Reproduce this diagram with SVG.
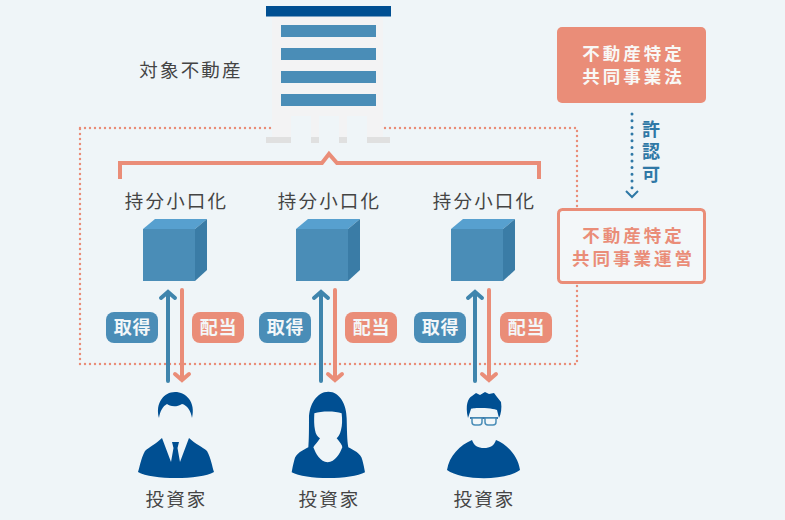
<svg xmlns="http://www.w3.org/2000/svg" width="785" height="520" viewBox="0 0 785 520">
<defs>
<style>
text{font-family:"Noto Sans CJK JP","Noto Sans",sans-serif;text-anchor:middle}
.lab{font-size:18.500px;fill:#444;letter-spacing:2.200px}
.tag{font-size:18px;font-weight:700;fill:#f3f7f9;letter-spacing:.8px}
.big{font-size:17.500px;font-weight:700;letter-spacing:3px}
.b{fill:#4a8db7}.s{fill:#3a7ca6}.t{fill:#57a0cf}
.inv{fill:#004f92}
.bg{fill:#eff5f8}
.ln{fill:none;stroke-width:4}
</style>
<g id="cube"><path class="t" d="M143 229L155 219H207L195 229Z"/><path class="s" d="M195 229L207 219V270L195 281Z"/><rect class="b" x="143" y="229" width="52" height="52"/></g>
<g id="up"><path fill="none" stroke="#3f85ad" stroke-width="4" stroke-linecap="round" d="M168 381V293M161 298L168 292L175 298"/></g>
<g id="dn"><path fill="none" stroke="#ea8d78" stroke-width="4" stroke-linecap="round" d="M182 290V380M175 374L182 380L189 374"/></g>
</defs>
<rect width="785" height="520" fill="#eff5f8"/>
<g id="connectors">
<rect x="80" y="128" width="497" height="236" fill="none" stroke="#ea8d78" stroke-width="2.400" stroke-linecap="round" stroke-dasharray="0 5"/>
<path class="ln" stroke="#ea8d78" d="M120 179V163H322L329 154L337 163H539V179"/>
<use href="#up"/><use href="#dn"/>
<use href="#up" x="153"/><use href="#dn" x="153"/>
<use href="#up" x="307"/><use href="#dn" x="307"/>
<path fill="none" stroke="#2f78a6" stroke-width="3" stroke-linecap="round" stroke-dasharray="0 6.700" d="M632 114V188"/>
<path fill="none" stroke="#2f78a6" stroke-width="2" d="M626 191L632 197L638 191"/>
</g>
<g id="building">
<rect x="272" y="16" width="111" height="122" fill="#f3f3f4"/>
<rect x="291" y="116" width="20" height="27" class="bg"/><rect x="319" y="116" width="20" height="27" class="bg"/><rect x="347" y="116" width="20" height="27" class="bg"/>
<rect x="266" y="137" width="25" height="6" fill="#e0e0e0"/><rect x="311" y="137" width="8" height="6" fill="#e0e0e0"/><rect x="339" y="137" width="8" height="6" fill="#e0e0e0"/><rect x="367" y="137" width="23" height="6" fill="#e0e0e0"/>
<rect x="266" y="6" width="125" height="10.500" fill="#004f92"/>
<rect x="281" y="25" width="95" height="12" fill="#4a8db7"/><rect x="281" y="48" width="95" height="12" fill="#4a8db7"/><rect x="281" y="71" width="95" height="12" fill="#4a8db7"/><rect x="281" y="94" width="95" height="12" fill="#4a8db7"/>
<text class="lab" x="191" y="77">対象不動産</text>
</g>
<g id="law"><rect x="557" y="27" width="149" height="76" rx="5" fill="#ea8d78"/><text class="big" fill="#f8f8f6"><tspan x="633.500" y="60">不動産特定</tspan><tspan x="633.500" y="83">共同事業法</tspan></text></g>
<g id="permit"><text x="651" y="120" font-size="18" font-weight="700" fill="#2f78a6" letter-spacing="4.500" style="writing-mode:vertical-rl;text-anchor:start">許認可</text></g>
<g id="operator"><rect x="558.500" y="209.500" width="146" height="73" rx="4" fill="#f3f7f9" stroke="#ea8d78" stroke-width="3"/><text class="big" fill="#ea8d78"><tspan x="633.500" y="242">不動産特定</tspan><tspan x="633.500" y="265">共同事業運営</tspan></text></g>
<g id="unit1"><text class="lab" x="176.500" y="208">持分小口化</text><use href="#cube"/></g>
<g id="unit2"><text class="lab" x="329.500" y="208">持分小口化</text><use href="#cube" x="153"/></g>
<g id="unit3"><text class="lab" x="484.500" y="208">持分小口化</text><use href="#cube" x="308"/></g>
<g id="tags1"><rect x="106" y="312" width="52" height="31" rx="8" fill="#4a8db7"/><text class="tag" x="132.500" y="334">取得</text><rect x="192" y="312" width="52" height="31" rx="8" fill="#ea8d78"/><text class="tag" x="218.500" y="334">配当</text></g>
<g id="tags2"><rect x="259" y="312" width="52" height="31" rx="8" fill="#4a8db7"/><text class="tag" x="285.500" y="334">取得</text><rect x="345" y="312" width="52" height="31" rx="8" fill="#ea8d78"/><text class="tag" x="371.500" y="334">配当</text></g>
<g id="tags3"><rect x="414" y="312" width="52" height="31" rx="8" fill="#4a8db7"/><text class="tag" x="440.500" y="334">取得</text><rect x="500" y="312" width="52" height="31" rx="8" fill="#ea8d78"/><text class="tag" x="526.500" y="334">配当</text></g>
<g id="investor1">
<path class="inv" d="M159 418C155 403 164 392 175 392C186 392 196 402 192 418C191 411 187 405 182 404C176 408 169 406 167 404C163 406 160 411 159 418Z"/>
<path class="inv" d="M162 438L171 462H180L189 438C195 444 203 447 207 451C211 458 212 466 214 472C200 480 152 480 138 472C140 466 141 458 145 451C149 447 156 444 162 438Z"/>
<path class="inv" d="M172 442H179L177.500 448L180 462H171L173.500 448Z"/>
</g>
<g id="investor2" transform="translate(285 385) scale(.3333)">
<path class="inv" d="M130 20C165 20 185 60 185 100C186 135 186 165 190 187C205 195 228 205 232 225C236 240 238 250 240 262C200 285 60 285 20 262C22 250 24 240 28 225C32 205 55 195 70 187C72 165 72 135 72 100C72 60 95 20 130 20Z"/>
<path class="bg" d="M88 85C110 78 150 78 170 85C172 105 172 120 168 135C165 148 160 155 155 160C165 172 172 180 172 187C165 205 150 232 128 232C106 232 92 205 85 187C88 180 98 172 105 160C98 155 92 148 90 135C87 120 87 105 88 85Z"/>
</g>
<g id="investor3">
<path class="inv" d="M468 418C465 405 468 398 472 396L476 393L480 395L485 392L489 394L494 393L497 397L501 402C502 408 501 414 499 418L497 410C495 408 472 407 471 409Z"/>
<path fill="none" stroke="#004f92" stroke-width="1.500" d="M470 418H498"/>
<path fill="#f3f7f9" stroke="#4a8db7" stroke-width="1.500" d="M472 418H482V422Q482 425 479 425H475Q472 425 472 422ZM485 418H496V422Q496 425 493 425H488Q485 425 485 422Z"/>
<path class="inv" d="M472 440C474 446 478 448 484 448C490 448 494 446 496 440C508 445 518 456 520 470C506 481 462 481 447 470C449 456 460 445 472 440Z"/>
</g>
<text class="lab" x="176.500" y="506">投資家</text>
<text class="lab" x="329.500" y="506">投資家</text>
<text class="lab" x="484.500" y="506">投資家</text>
</svg>
